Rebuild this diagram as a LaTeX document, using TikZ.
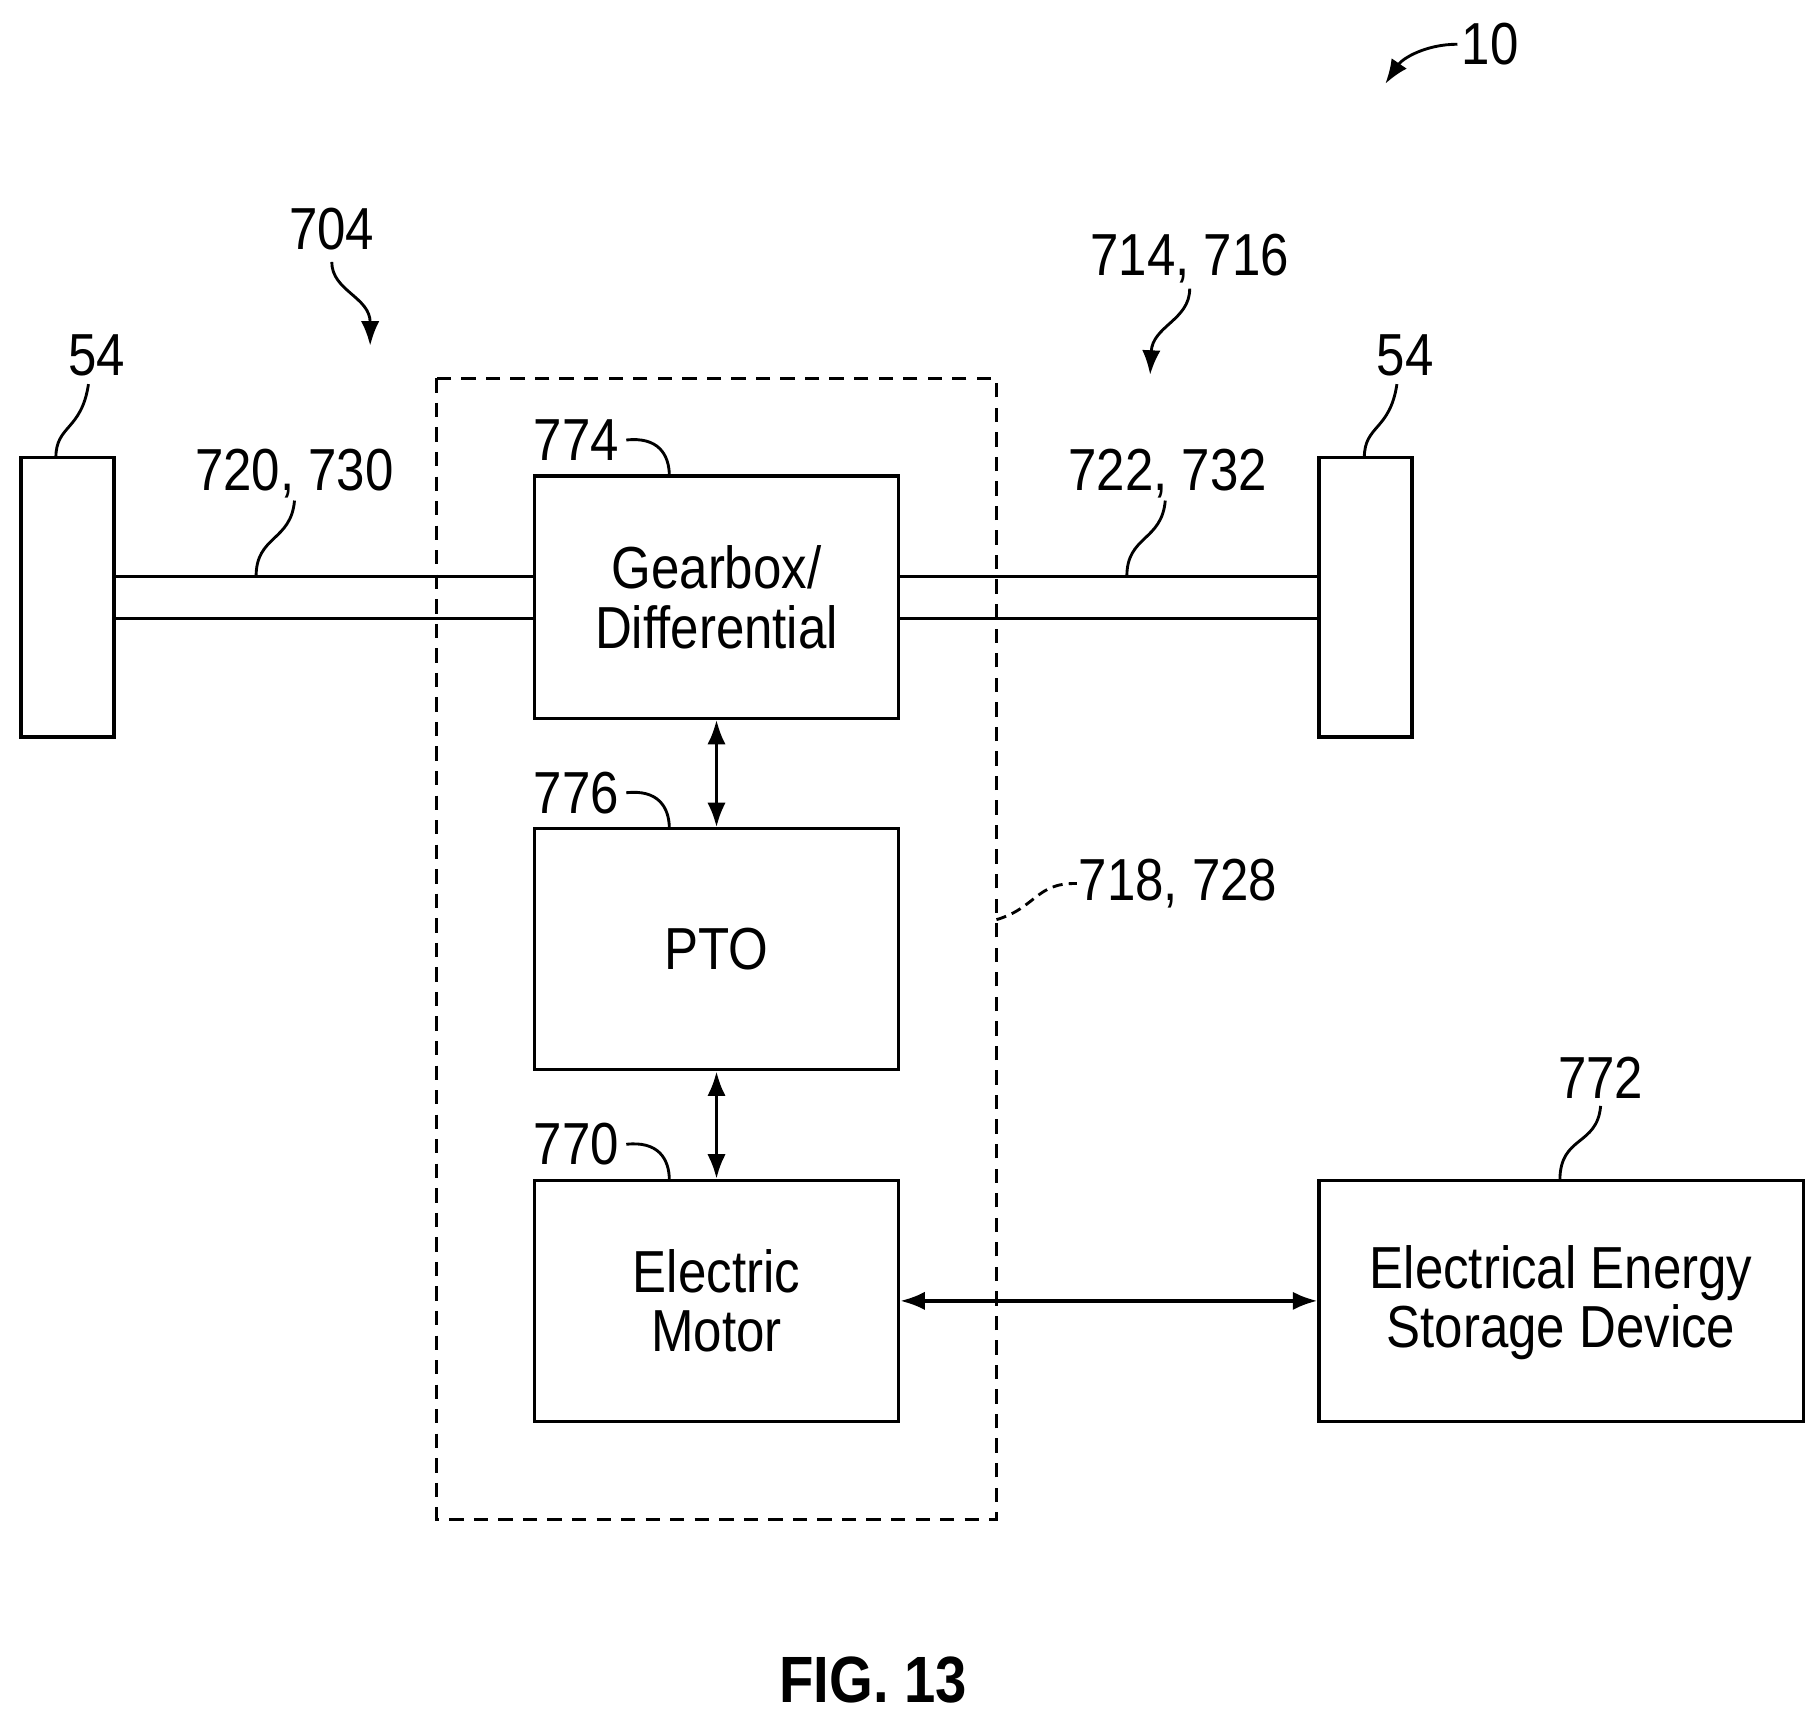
\documentclass[tikz,border=0pt]{standalone}
\usepackage{fontspec}
\setmainfont{Liberation Sans}[FakeStretch=0.86]
\usetikzlibrary{arrows.meta}
\begin{document}
\begin{tikzpicture}[x=0.02cm,y=-0.02cm,
  box/.style={draw,line width=1.6pt},
  lbl/.style={font=\fontsize{29}{31}\selectfont,inner sep=0pt},
  btxt/.style={font=\fontsize{29}{29}\selectfont,align=center},
  lead/.style={line width=1.4pt},
  arr/.style={line width=1.6pt,{Latex[length=12pt,width=9pt]}-{Latex[length=12pt,width=9pt]}},
  parr/.style={line width=1.4pt,-{Latex[length=12pt,width=9pt]}}]
\useasboundingbox (0,0) rectangle (1560,1477);
\draw[box] (18,393) rectangle (98,633);
\draw[box] (1133,393) rectangle (1213,633);
\coordinate (wlt) at (48,393); \coordinate (wrt) at (1172,393);
\node[box,minimum width=313*0.02cm,minimum height=208*0.02cm,btxt] (gb) at (615.5,513) {Gearbox/\\Differential};
\node[box,minimum width=313*0.02cm,minimum height=207*0.02cm,btxt] (pto) at (615.5,815.5) {PTO};
\node[box,minimum width=313*0.02cm,minimum height=207*0.02cm,btxt] (em) at (615.5,1117.5) {Electric\\Motor};
\node[box,minimum width=416*0.02cm,minimum height=207*0.02cm,btxt,text depth=4pt] (ee) at (1341,1117.5) {Electrical Energy\\Storage Device};
\draw[line width=1.6pt,dashed,dash pattern=on 7pt off 5pt] (375,325) rectangle (856,1305);
\draw[line width=1.6pt] (98,495) -- (gb.west |- 0,495) (98,531) -- (gb.west |- 0,531);
\draw[line width=1.6pt] (gb.east |- 0,495) -- (1133,495) (gb.east |- 0,531) -- (1133,531);
\draw[arr] (gb.south) -- (pto.north);
\draw[arr] (pto.south) -- (em.north);
\draw[arr] (em.east) -- (ee.west |- em.east);
\node[lbl] (l54a) at (83,305) {54};
\draw[lead] (wlt) .. controls (48,365) and (70,370) .. (76,330);
\node[lbl] (l54b) at (1207,305) {54};
\draw[lead] (wrt) .. controls (1172,365) and (1194,370) .. (1200,330);
\node[lbl] (l720) at (253,407) {720, 730};
\draw[lead] (220,495) .. controls (220,460) and (250,465) .. (253,430);
\node[lbl] (l722) at (1003,407) {722, 732};
\draw[lead] (968,495) .. controls (968,460) and (998,465) .. (1001,430);
\node[lbl] (l774) at (495,378) {774};
\draw[lead] (538,378) .. controls (565,375) and (575,390) .. (575,409);
\node[lbl] (l776) at (495,681) {776};
\draw[lead] (538,681) .. controls (565,678) and (575,693) .. (575,712);
\node[lbl] (l770) at (495,983) {770};
\draw[lead] (538,983) .. controls (565,980) and (575,995) .. (575,1014);
\node[lbl] (l718) at (1012,759) {718, 728};
\draw[lead,dashed,dash pattern=on 5pt off 3pt] (856,790) .. controls (890,780) and (890,758) .. (925,759);
\node[lbl] (l772) at (1375,926) {772};
\draw[lead] (1340,1014) .. controls (1340,975) and (1372,985) .. (1375,950);
\node[lbl] (l704) at (285,197) {704};
\draw[parr] (285,225) .. controls (285,250) and (318,255) .. (318,297);
\node[lbl] (l714) at (1022,222) {714, 716};
\draw[parr] (1022,248) .. controls (1022,275) and (990,280) .. (988,322);
\node[lbl] (l10) at (1280,38) {10};
\draw[parr] (1252,38) .. controls (1225,38) and (1205,50) .. (1190,72);
\node[inner sep=0pt,font=\fontsize{32}{34}\selectfont\bfseries] (fig) at (750,1443) {FIG. 13};
\end{tikzpicture}
\end{document}
